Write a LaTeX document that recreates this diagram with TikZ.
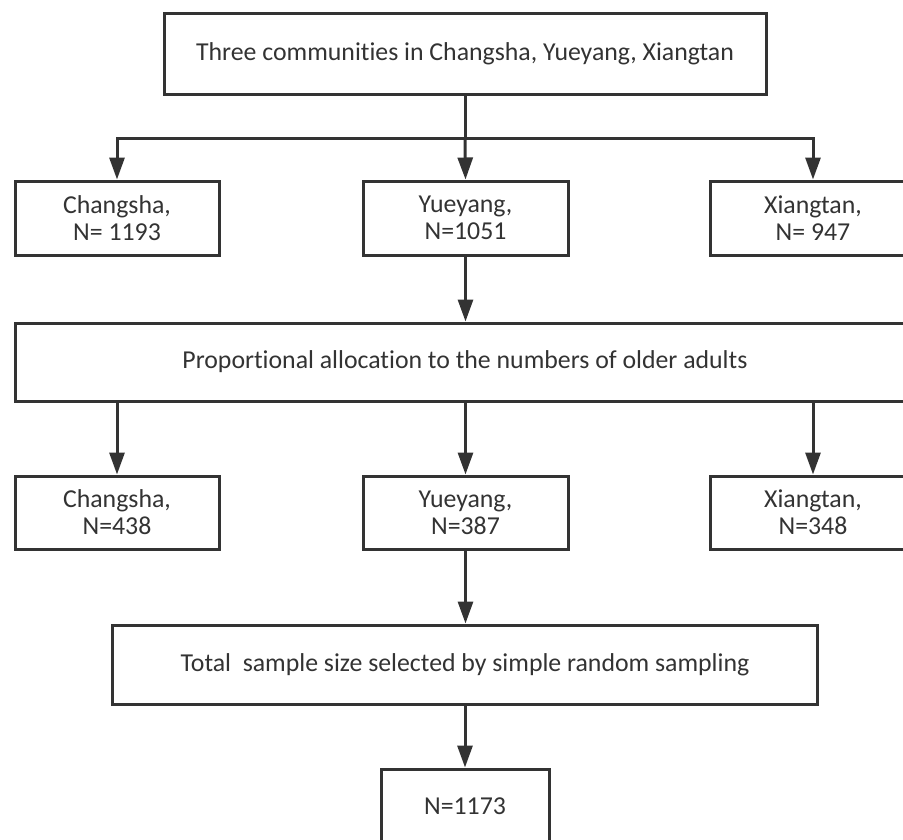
\documentclass[tikz,border=0pt]{standalone}
\usepackage{fontspec}
\setmainfont[Ligatures=NoCommon]{Carlito}
\usetikzlibrary{arrows.meta}
\definecolor{ink}{HTML}{333333}
\begin{document}
\begin{tikzpicture}[x=1pt,y=1pt,
  box/.style={draw=ink, line width=3pt, fill=white, inner sep=0pt, align=center,
    text=ink, font=\fontsize{25.8pt}{27pt}\selectfont},
  arr/.style={draw=ink, line width=3pt, -{Triangle[width=15pt,length=22pt]}},
  ln/.style={draw=ink, line width=3pt}]
\useasboundingbox (0,0) rectangle (903,-839);
\clip (0,0) rectangle (903,-839);
\node[box, minimum width=602pt, minimum height=81pt] (top) at (465,-53.5) {Three communities in Changsha, Yueyang, Xiangtan};
\node[box, minimum width=204pt, minimum height=74pt] (c1) at (117,-218) {Changsha,\\N= 1193};
\node[box, minimum width=205pt, minimum height=74pt] (y1) at (465.5,-218) {Yueyang,\\N=1051};
\node[box, minimum width=206pt, minimum height=74pt] (x1) at (813,-218) {Xiangtan,\\N= 947};
\node[box, minimum width=900pt, minimum height=78pt] (prop) at (465,-362) {Proportional allocation to the numbers of older adults};
\node[box, minimum width=204pt, minimum height=73pt] (c2) at (117,-512.5) {Changsha,\\N=438};
\node[box, minimum width=205pt, minimum height=73pt] (y2) at (465.5,-512.5) {Yueyang,\\N=387};
\node[box, minimum width=206pt, minimum height=73pt] (x2) at (813,-512.5) {Xiangtan,\\N=348};
\node[box, minimum width=705pt, minimum height=79pt] (tot) at (465,-664.5) {Total\ \ sample size selected by simple random sampling};
\node[box, minimum width=168pt, minimum height=74pt] (fin) at (465,-806) {N=1173};
\coordinate (split) at (465,-138);
\draw[ln] (top.south) -- (split);
\draw[arr] (split) -| (c1.north);
\draw[arr] (split) -| (x1.north);
\draw[arr] (split) -- (y1.north);
\draw[arr] (y1.south) -- (y1.south |- prop.north);
\draw[arr] (c2.north |- prop.south) -- (c2.north);
\draw[arr] (y2.north |- prop.south) -- (y2.north);
\draw[arr] (x2.north |- prop.south) -- (x2.north);
\draw[arr] (y2.south) -- (y2.south |- tot.north);
\draw[arr] (tot.south) -- (fin.north);
\end{tikzpicture}
\end{document}
